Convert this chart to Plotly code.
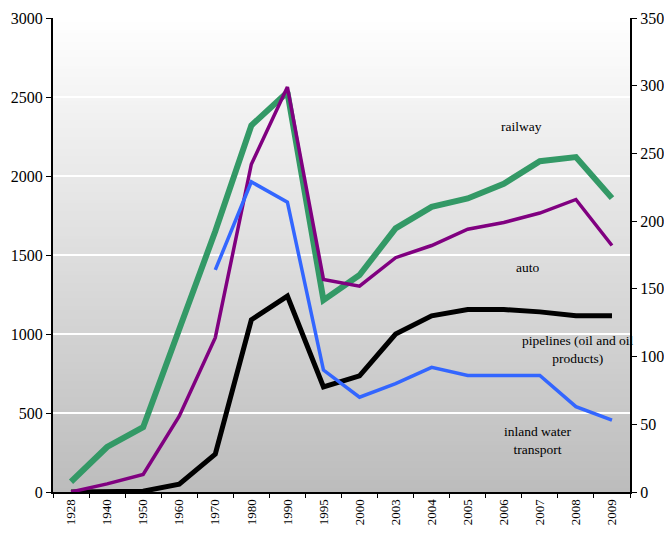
import plotly.graph_objects as go

years = ["1928", "1940", "1950", "1960", "1970", "1980", "1990", "1995", "2000",
         "2003", "2004", "2005", "2006", "2007", "2008", "2009"]

# left axis (billion t-km)
railway = [65, 285, 410, 1040, 1650, 2320, 2530, 1214, 1373, 1669, 1805, 1858, 1951, 2094, 2120, 1860]
pipelines = [0, 3, 5, 50, 240, 1090, 1240, 665, 735, 1000, 1115, 1155, 1155, 1140, 1115, 1115]

# right axis
auto = [0, 6, 13, 56, 114, 242, 299, 157, 152, 173, 182, 194, 199, 206, 216, 182]
water_years = years[4:]
inland_water = [164, 229, 214, 90, 70, 80, 92, 86, 86, 86, 63, 53]

labels = ["railway", "auto", "pipelines (oil and oil<br>products)", "inland water<br>transport"]

SERIF = "Liberation Serif, Times New Roman, serif"

fig = go.Figure()

fig.add_trace(go.Scatter(x=years, y=railway, mode="lines", name="railway",
                         line=dict(color="#339966", width=6), yaxis="y"))
fig.add_trace(go.Scatter(x=years, y=pipelines, mode="lines", name="pipelines",
                         line=dict(color="#000000", width=5), yaxis="y"))
fig.add_trace(go.Scatter(x=years, y=auto, mode="lines", name="auto",
                         line=dict(color="#800080", width=3.5), yaxis="y2"))
fig.add_trace(go.Scatter(x=water_years, y=inland_water, mode="lines", name="inland water",
                         line=dict(color="#3366FF", width=3.5), yaxis="y2"))

# gradient background bands (overlapping slightly to avoid seams)
n = 120
shapes = []
for i in range(n):
    t = (i + 0.5) / n
    c = int(round(188 + (255 - 188) * t))
    shapes.append(dict(type="rect", xref="paper", yref="paper", x0=0, x1=1,
                       y0=i / n, y1=min(1.0, (i + 1) / n + 0.004),
                       fillcolor=f"rgb({c},{c},{c})",
                       line=dict(width=0), layer="below"))

# label positions: (category index, left-axis value)
label_pos = [(12.5, 2314), (12.65, 1421), (14.05, 900), (12.95, 327)]
annots = []
for text, (xi, yv) in zip(labels, label_pos):
    annots.append(dict(x=xi, y=yv, xref="x", yref="y", text=text,
                       showarrow=False, xanchor="center", yanchor="middle",
                       font=dict(family=SERIF, size=13.5, color="black"), align="center"))

fig.update_layout(
    width=656, height=520,
    margin=dict(l=45, r=34, t=10, b=36, autoexpand=False),
    paper_bgcolor="white",
    plot_bgcolor="rgba(0,0,0,0)",
    showlegend=False,
    shapes=shapes,
    annotations=annots,
    xaxis=dict(type="category", categoryorder="array", categoryarray=years,
               range=[-0.5, len(years) - 0.5], autorange=False, automargin=False,
               tickangle=-90, tickson="boundaries",
               ticks="outside", ticklen=4, tickcolor="black",
               showline=True, linecolor="black", linewidth=2,
               showgrid=False, zeroline=False,
               tickfont=dict(family=SERIF, size=13, color="black")),
    yaxis=dict(range=[0, 3000], dtick=500, ticks="outside", ticklen=5, automargin=False,
               tickcolor="black", showline=True, linecolor="black", linewidth=2,
               showgrid=True, gridcolor="white", gridwidth=2, zeroline=False,
               tickfont=dict(family=SERIF, size=16, color="black")),
    yaxis2=dict(range=[0, 350], dtick=50, overlaying="y", side="right", automargin=False,
                ticks="outside", ticklen=5, tickcolor="black",
                showline=True, linecolor="black", linewidth=2,
                showgrid=False, zeroline=False,
                tickfont=dict(family=SERIF, size=16, color="black")),
)

fig.write_html("out.html")
